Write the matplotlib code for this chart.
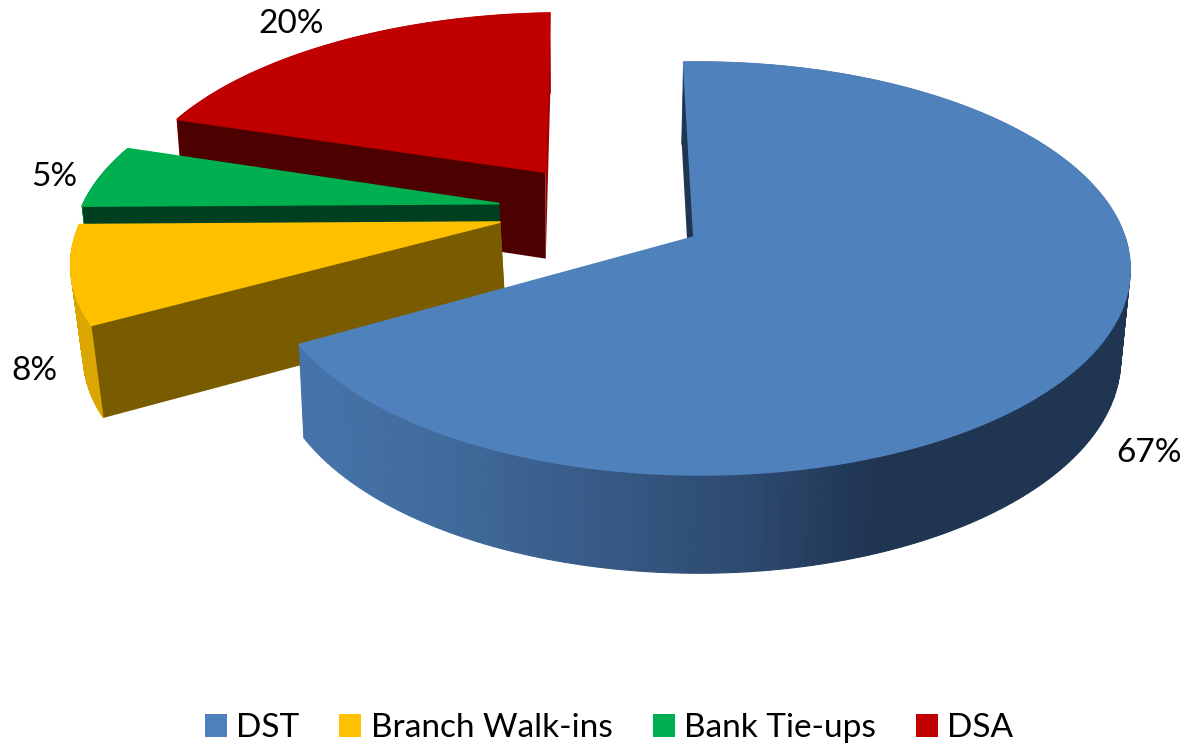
import numpy as np
import matplotlib
matplotlib.use("Agg")
import matplotlib.pyplot as plt
from matplotlib.patches import Polygon, Patch
from matplotlib.colors import to_rgb

categories = ["DST", "Branch Walk-ins", "Bank Tie-ups", "DSA"]
values = [67.4, 8.0, 5.1, 19.5]
pct_labels = ["67%", "8%", "5%", "20%"]
top_colors = ["#4f81bd", "#ffc000", "#00b050", "#c00000"]

START = -2.2
K, B, YH = 0.1525, 1322.0, -1085.0
BB, YB, XF = 1374.0, -1048.0, 0.983
CX, R = 690.0, 431.0
bottom_dx = {0: -2.0, 1: 2.0, 2: 0.0, 3: -2.0}
apex = {0: (0.009, 0.0), 1: (-0.445, 0.075), 2: (-0.454, 0.17), 3: (-0.353, 0.338)}
arc_shift = {0: 0.012, 1: 0.0, 2: 0.0, 3: 0.0}
arc_rx = {0: 0.988, 1: 0.985, 2: 0.99, 3: 1.0}
arc_ry = {0: 1.0, 1: 0.985, 2: 0.99, 3: 1.0}
wall_dark = {0: "#1f3552", 1: "#7a5c00", 2: "#004020", 3: "#4d0000"}
rim_col = {1: "#dca600", 2: "#008a40", 3: "#a00000"}
end_col = {0: "#1f3552", 1: "#7a5c00", 2: "#004020", 3: "#a00000"}
grad_x = [300, 450, 600, 750, 880, 1130]
grad_c = ["#4674aa", "#406a9c", "#385a87", "#2d4a70", "#1f3552", "#1f3552"]
label_pos = [(1149, 453), (34, 371), (54, 177), (291, 24)]


def proj(X, Y):
    s = 1.0 / (1.0 + K * Y)
    return CX + R * X * s, YH + B * s


def proj_bottom(X, Y, dx):
    s = 1.0 / (1.0 + K * Y)
    return CX + dx + XF * R * X * s, YB + BB * s


fig = plt.figure(figsize=(11.87, 7.46), dpi=100)
ax = fig.add_axes([0, 0, 1, 1])
ax.set_xlim(0, 1187)
ax.set_ylim(746, 0)
ax.axis("off")

plt.rcParams["font.family"] = ["Lato", "DejaVu Sans"]

edges = START + np.cumsum([0] + values) * 3.6
grad_rgb = np.array([to_rgb(c) for c in grad_c])


def grad_color(x):
    return tuple(np.interp(x, grad_x, grad_rgb[:, i]) for i in range(3))


for i in [3, 2, 1, 0]:
    x0, y0 = apex[i]
    th = np.radians(np.linspace(edges[i], edges[i + 1], 241))
    X = x0 + arc_shift[i] + arc_rx[i] * np.sin(th)
    Y = y0 + arc_ry[i] * np.cos(th)
    tx, ty = proj(X, Y)
    bx, by = proj_bottom(X, Y, bottom_dx[i])
    ax_, ay_ = proj(x0, y0)
    abx, aby = proj_bottom(x0, y0, bottom_dx[i])
    # wall along the closing edge
    ax.add_patch(Polygon([(ax_, ay_), (tx[-1], ty[-1]), (bx[-1], by[-1]), (abx, aby)],
                         fc=end_col[i], ec="none", zorder=1))
    # outer rim swept as small quads, so the silhouette follows the tangent line
    for j in range(len(th) - 1):
        quad = [(tx[j], ty[j]), (tx[j + 1], ty[j + 1]), (bx[j + 1], by[j + 1]), (bx[j], by[j])]
        c = grad_color(tx[j]) if i == 0 else rim_col[i]
        ax.add_patch(Polygon(quad, fc=c, ec=c, lw=0.8, zorder=1))
    # wall along the opening edge
    ax.add_patch(Polygon([(ax_, ay_), (tx[0], ty[0]), (bx[0], by[0]), (abx, aby)],
                         fc=wall_dark[i], ec="none", zorder=1))
    # top face, its outline covers the rim's outline along the back arc
    ax.add_patch(Polygon(np.column_stack([np.r_[ax_, tx], np.r_[ay_, ty]]),
                         fc=top_colors[i], ec=top_colors[i], lw=1.2, zorder=1))

for lab, (lx, ly) in zip(pct_labels, label_pos):
    ax.text(lx, ly, lab, ha="center", va="center", fontsize=24, color="black", zorder=5)

handles = [Patch(fc=c, ec="none", label=n) for c, n in zip(top_colors, categories)]
leg = fig.legend(handles=handles, loc="center", bbox_to_anchor=(609 / 1187, 1 - 728 / 746),
                 ncol=4, frameon=False, fontsize=24, handlelength=0.66, handleheight=0.66,
                 handletextpad=0.28, columnspacing=1.2, borderpad=0, labelcolor="black")

fig.savefig("out.png", dpi=100)
